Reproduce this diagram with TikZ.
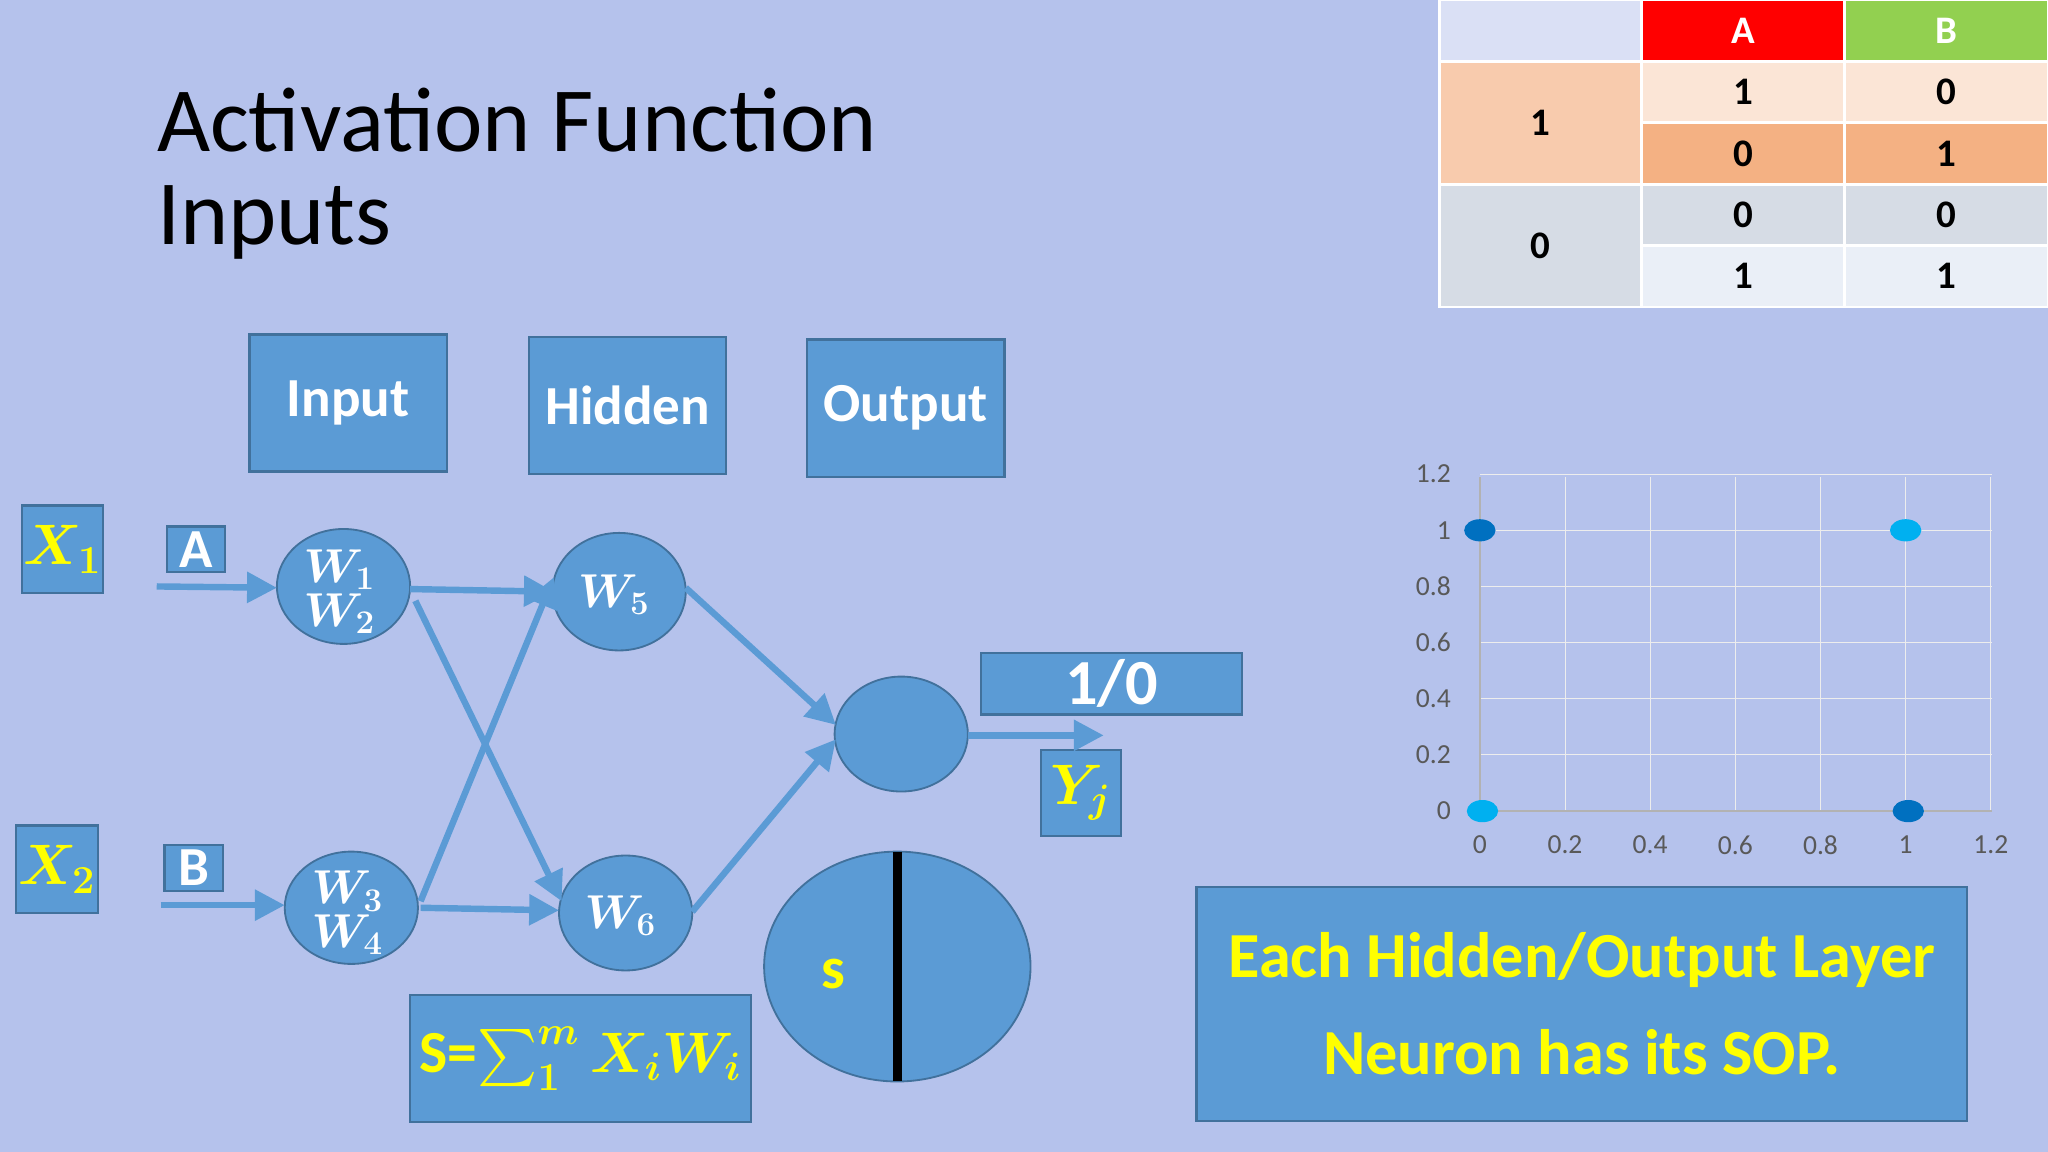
\documentclass[tikz,border=0pt]{standalone}
\usepackage{fontspec}
\setmainfont{Carlito}
\usepackage{amsmath}
\usetikzlibrary{arrows.meta}
\definecolor{bg}{HTML}{B5C2EC}
\definecolor{bl}{HTML}{5B9BD5}
\definecolor{bd}{HTML}{41719C}
\definecolor{yl}{HTML}{FFFF00}
\definecolor{gr}{HTML}{92D050}
\definecolor{o1}{HTML}{F8CBAD}
\definecolor{o2}{HTML}{FBE5D6}
\definecolor{o3}{HTML}{F4B183}
\definecolor{g1}{HTML}{D6DCE5}
\definecolor{g2}{HTML}{EAEFF7}
\definecolor{p1}{HTML}{0070C0}
\definecolor{p2}{HTML}{00B0F0}
\begin{document}
\begin{tikzpicture}[x=0.02cm,y=-0.02cm,
 box/.style={draw=bd,line width=1pt,fill=bl,inner sep=0pt},
 arr/.style={draw=bl,line width=2.8pt,-{Triangle[length=13pt,width=13pt]}},
 wt/.style={text=white,font=\bfseries\fontsize{24}{26}\selectfont},
 yt/.style={text=yl,font=\bfseries\fontsize{26}{28}\selectfont},
 cell/.style={draw=white,line width=1.2pt},
 ct/.style={font=\bfseries\fontsize{17}{18}\selectfont},
 ax/.style={font=\fontsize{12}{12}\selectfont,text=black!65}]
\fill[bg] (0,0) rectangle (1568,882);
\useasboundingbox (0,0) rectangle (1568,882);
\node[anchor=west,font=\fontsize{40}{44}\selectfont] (t1) at (114,92) {Activation Function};
\node[anchor=west,font=\fontsize{40}{44}\selectfont] (t2) at (114,170) {Inputs};
\draw[box] (191,256) rectangle (342,361) node[midway,wt] (in) {Input};
\draw[box] (405,258) rectangle (556,363) node[midway,wt] (hd) {Hidden};
\draw[box] (618,260) rectangle (769,365) node[midway,wt] (op) {Output};
\draw[box] (17,387) rectangle (79,454) node[midway,yt] (x1) {$\boldsymbol{X_1}$};
\draw[box] (12,632) rectangle (75,699) node[midway,yt] (x2) {$\boldsymbol{X_2}$};
\draw[box] (128,403) rectangle (172,438) node[midway,wt] (a) {A};
\draw[box] (126,647) rectangle (171,682) node[midway,wt] (b) {B};
\draw[box] (751,500) rectangle (951,547) node[midway,wt,font=\bfseries\fontsize{28}{30}\selectfont] (ten) {1/0};
\draw[box] (797,574) rectangle (858,640) node[midway,yt] (yj) {$\boldsymbol{Y_j}$};
\draw[box] (314,762) rectangle (575,859) node[midway,yt,font=\bfseries\fontsize{26}{28}\selectfont] (sf) {S=$\boldsymbol{\sum_1^m X_iW_i}$};
\draw[box] (916,679) rectangle (1506,858) node[midway,yt,align=center,font=\bfseries\fontsize{28}{42}\selectfont] (each) {Each Hidden/Output Layer\\Neuron has its SOP.};
\tikzset{ns/.style={draw=bd,line width=0.8pt,fill=bl}}
\path[ns] (263,449) ellipse [x radius=51,y radius=44];
\path[ns] (269,695) ellipse [x radius=51,y radius=43];
\path[ns] (474,453) ellipse [x radius=51,y radius=45];
\path[ns] (479,699) ellipse [x radius=51,y radius=44];
\path[ns] (690,562) ellipse [x radius=51,y radius=44];
\node[text=white,font=\fontsize{20}{20}\selectfont,align=center] (n1) at (260,453) {$\boldsymbol{W_1}$\\[-1pt]$\boldsymbol{W_2}$};
\node[text=white,font=\fontsize{20}{20}\selectfont,align=center] (n3) at (266,699) {$\boldsymbol{W_3}$\\[-1pt]$\boldsymbol{W_4}$};
\node[text=white,font=\fontsize{20}{20}\selectfont] (n5) at (470,455) {$\boldsymbol{W_5}$};
\node[text=white,font=\fontsize{20}{20}\selectfont] (n6) at (475,701) {$\boldsymbol{W_6}$};
\coordinate (a0) at (120,449); \coordinate (a1) at (212,450);
\coordinate (b0) at (123,693); \coordinate (b1) at (218,693);
\coordinate (e1r) at (314,451); \coordinate (e1b) at (318,460);
\coordinate (e3t) at (322,690); \coordinate (e3r) at (322,695);
\coordinate (e5l) at (424,453); \coordinate (e5b) at (424,442);
\coordinate (e6l) at (428,697); \coordinate (e6t) at (430,690);
\coordinate (e5r) at (525,450); \coordinate (e6r) at (530,698);
\coordinate (ol) at (640,555); \coordinate (ol2) at (640,566);
\coordinate (or) at (741,563); \coordinate (oe) at (845,563);
\draw[arr] (a0) -- (a1);
\draw[arr] (b0) -- (b1);
\draw[arr] (e1r) -- (e5l);
\draw[arr] (e1b) -- (e6t);
\draw[arr] (e3t) -- (e5b);
\draw[arr] (e3r) -- (e6l);
\draw[arr] (e5r) -- (ol);
\draw[arr] (e6r) -- (ol2);
\draw[arr] (or) -- (oe);
\path[ns] (687,740) ellipse [x radius=102,y radius=88];
\draw[line width=4pt] (687,652) -- (687,828);
\node[yt] (s) at (638,746) {s};
% table
\path[cell,fill=bg!50!white] (1102,0) rectangle (1257,47);
\path[cell,fill=red] (1257,0) rectangle (1412,47) node[midway,ct,text=white] (ha) {A};
\path[cell,fill=gr] (1412,0) rectangle (1568,47) node[midway,ct,text=white] (hb) {B};
\path[cell,fill=o1] (1102,47) rectangle (1257,141) node[midway,ct] (r1) {1};
\path[cell,fill=o2] (1257,47) rectangle (1412,94) node[midway,ct] (c11) {1};
\path[cell,fill=o2] (1412,47) rectangle (1568,94) node[midway,ct] (c12) {0};
\path[cell,fill=o3] (1257,94) rectangle (1412,141) node[midway,ct] (c21) {0};
\path[cell,fill=o3] (1412,94) rectangle (1568,141) node[midway,ct] (c22) {1};
\path[cell,fill=g1] (1102,141) rectangle (1257,235) node[midway,ct] (r0) {0};
\path[cell,fill=g1] (1257,141) rectangle (1412,188) node[midway,ct] (c31) {0};
\path[cell,fill=g1] (1412,141) rectangle (1568,188) node[midway,ct] (c32) {0};
\path[cell,fill=g2] (1257,188) rectangle (1412,235) node[midway,ct] (c41) {1};
\path[cell,fill=g2] (1412,188) rectangle (1568,235) node[midway,ct] (c42) {1};
% chart
\foreach \i/\l in {0/0,1/0.2,2/0.4,3/0.6,4/0.8,5/1,6/1.2}{
  \draw[black!7,line width=0.4pt] (1133,{621-\i*43}) -- (1525,{621-\i*43});
  \draw[black!7,line width=0.4pt] ({1133+\i*65.2},365) -- ({1133+\i*65.2},621);
  \node[ax,anchor=east] at (1117,{621-\i*43}) {\l};
  \node[ax] at ({1133+\i*65.2},647) {\l};
}
\draw[black!30,line width=0.6pt] (1133,621) -- (1525,621);
\draw[black!30,line width=0.6pt] (1133,621) -- (1133,365);
\fill[p1] (1133,406) ellipse [x radius=12,y radius=8.5];
\fill[p2] (1459,406) ellipse [x radius=12,y radius=8.5];
\fill[p2] (1135,621) ellipse [x radius=12,y radius=8.5];
\fill[p1] (1461,621) ellipse [x radius=12,y radius=8.5];
\end{tikzpicture}
\end{document}
